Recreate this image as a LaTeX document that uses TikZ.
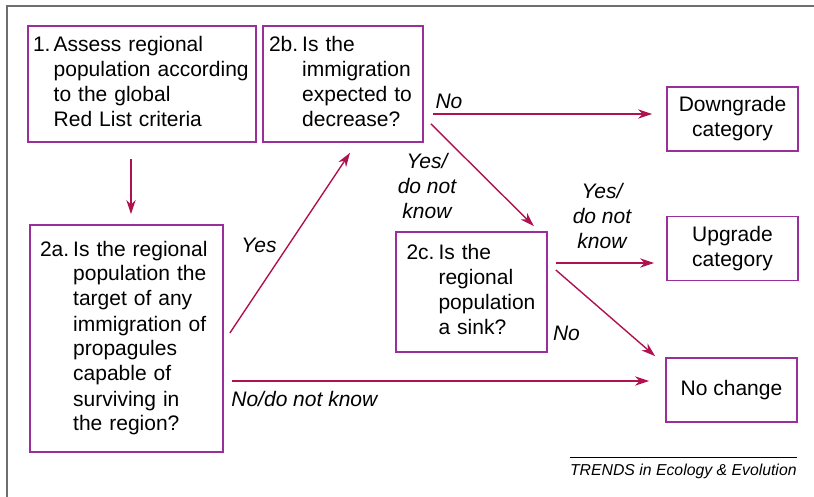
\documentclass[tikz,border=0pt]{standalone}
\usepackage{fontspec}
\setmainfont{Liberation Sans}
\usepackage{tikz}
\usetikzlibrary{arrows.meta, positioning, calc}
\definecolor{BoxPurple}{HTML}{9A2E9A}
\definecolor{ArrowRed}{HTML}{B0124F}
\definecolor{FrameGrey}{HTML}{6E6E6E}

\begin{document}
\begin{tikzpicture}[x=0.5pt, y=-0.5pt, >={Stealth[length=7pt, width=4.6pt, inset=2.2pt]},
    font=\fontsize{10.5}{12.5}\selectfont,
    stepbox/.style={draw=BoxPurple, line width=0.85pt, inner xsep=0pt, inner ysep=0pt, align=left},
    endbox/.style={draw=BoxPurple, line width=0.85pt, minimum width=65.5pt, minimum height=32pt, align=center},
    arr/.style={->, draw=ArrowRed, line width=0.7pt},
    lbl/.style={font=\fontsize{10.5}{12.5}\selectfont\itshape, align=center, inner sep=0pt}]
  \useasboundingbox (0,0) rectangle (814,497);
  % frame of the figure panel
  \draw[FrameGrey, line width=1pt] (7,497) -- (7,6) -- (814,6);

  % question boxes
  \node[stepbox, minimum width=114pt, minimum height=58pt, text width=109pt] (assess) at (142,84)
    {\begin{tabular}{@{}l@{\hspace{1.6pt}}l@{}}1. & Assess regional\\ & population according\\ & to the global\\ & Red List criteria\end{tabular}};
  \node[stepbox, minimum width=80pt, minimum height=58pt, text width=74pt] (decrease) at (343,84)
    {\begin{tabular}{@{}l@{\hspace{2pt}}l@{}}2b. & Is the\\ & immigration\\ & expected to\\ & decrease?\end{tabular}};
  \node[stepbox, minimum width=96.5pt, minimum height=113.5pt, text width=86.5pt] (target) at (126.5,338.5)
    {\begin{tabular}{@{}l@{\hspace{2pt}}l@{}}2a. & Is the regional\\ & population the\\ & target of any\\ & immigration of\\ & propagules\\ & capable of\\ & surviving in\\ & the region?\end{tabular}};
  \node[stepbox, minimum width=75.5pt, minimum height=60pt, text width=65pt] (sink) at (471.5,292)
    {\begin{tabular}{@{}l@{\hspace{2pt}}l@{}}2c. & Is the\\ & regional\\ & population\\ & a sink?\end{tabular}};

  % outcome boxes
  \node[endbox] (down) at (732.5,119) {Downgrade\\category};
  \node[endbox] (up) at (732.5,248.5) {Upgrade\\category};
  \node[endbox] (nochange) at (731.5,390) {No change};

  % connectors
  \draw[arr, shorten <=8pt, shorten >=5pt] ([xshift=-5.5pt]assess.south) -- ([xshift=2.25pt]target.north);
  \draw[arr] ([xshift=3pt, yshift=2.75pt]target.east) -- ([xshift=3.5pt, yshift=-5pt]decrease.south);
  \draw[arr] ([xshift=4.5pt, yshift=-15pt]decrease.east) -- ([xshift=-7pt, yshift=2.5pt]down.west);
  \draw[arr] ([xshift=3.5pt, yshift=9.5pt]decrease.south east) -- ([xshift=-7pt, yshift=2.5pt]sink.north east);
  \draw[arr] ([xshift=4pt, yshift=14.5pt]sink.east) -- ([xshift=-6pt, yshift=-7.25pt]up.west);
  \draw[arr] ([xshift=4pt, yshift=11pt]sink.east) -- ([xshift=-5pt, yshift=0.5pt]nochange.north west);
  \draw[arr] ([xshift=4pt, yshift=-21.25pt]target.east) -- ([xshift=-8pt, yshift=4.5pt]nochange.west);

  % answers on the connectors
  \node[lbl] (noA) at (449,101) {No};
  \node[lbl] (yesA) at (427,186) {Yes/\\do not\\know};
  \node[lbl] (yesB) at (259,245) {Yes};
  \node[lbl] (yesC) at (602,215.5) {Yes/\\do not\\know};
  \node[lbl] (noB) at (566.5,333) {No};
  \node[lbl, anchor=west] (noC) at (231,398.5) {No/do not know};

  % source line
  \node[font=\fontsize{7.9}{9}\selectfont\itshape, inner sep=0pt, anchor=base east] (credit) at (797,475)
    {TRENDS in Ecology \& Evolution};
  \draw[line width=0.5pt] ([yshift=3pt]credit.north west) -- ([yshift=3pt]credit.north east);
\end{tikzpicture}
\end{document}
